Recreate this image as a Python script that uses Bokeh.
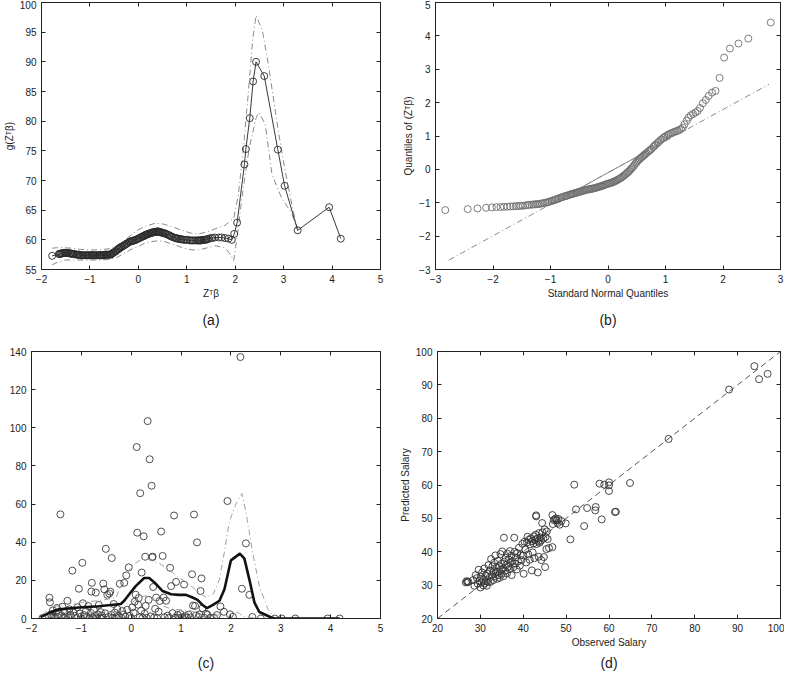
from bokeh.plotting import figure
from bokeh.layouts import column, row
from bokeh.models import Range1d, LinearAxis, FixedTicker, CustomLabelingPolicy
from bokeh.embed import file_html
from bokeh.resources import INLINE

# ---------------- data ----------------
# panel (a) and (c): index values z'beta, fitted g, and panel-(c) scatter values
z = [-1.78, -1.64, -1.63, -1.61, -1.59, -1.57, -1.55, -1.53, -1.51, -1.49, -1.47, -1.45, -1.42, -1.40,
     -1.38, -1.36, -1.34, -1.31, -1.28, -1.26, -1.24, -1.22, -1.20, -1.18, -1.16, -1.13, -1.10, -1.08,
     -1.05, -1.03, -1.01, -0.98, -0.97, -0.95, -0.93, -0.91, -0.89, -0.86, -0.84, -0.81, -0.80, -0.79,
     -0.77, -0.75, -0.73, -0.71, -0.69, -0.67, -0.65, -0.63, -0.61, -0.59, -0.57, -0.56, -0.54, -0.52,
     -0.51, -0.48, -0.46, -0.44, -0.42, -0.40, -0.39, -0.37, -0.35, -0.33, -0.30, -0.28, -0.25, -0.23,
     -0.20, -0.18, -0.16, -0.14, -0.12, -0.10, -0.08, -0.05, -0.03, 0.00, 0.02, 0.05, 0.07, 0.09,
     0.11, 0.12, 0.14, 0.15, 0.17, 0.18, 0.20, 0.21, 0.23, 0.25, 0.27, 0.28, 0.29, 0.31, 0.33, 0.35,
     0.37, 0.39, 0.41, 0.42, 0.43, 0.44, 0.46, 0.48, 0.50, 0.52, 0.55, 0.57, 0.60, 0.63, 0.65, 0.67,
     0.70, 0.73, 0.76, 0.78, 0.80, 0.83, 0.86, 0.88, 0.90, 0.93, 0.96, 0.99, 1.02, 1.06, 1.09, 1.12,
     1.15, 1.19, 1.22, 1.24, 1.26, 1.28, 1.30, 1.32, 1.35, 1.37, 1.39, 1.41, 1.43, 1.46, 1.50, 1.53,
     1.58, 1.66, 1.72, 1.79, 1.86, 1.93, 1.98, 2.04, 2.19, 2.22, 2.30, 2.37, 2.43, 2.60, 2.88, 3.02,
     3.29, 3.94, 4.18]
g = [57.3, 57.6, 57.6, 57.7, 57.7, 57.7, 57.8, 57.8, 57.8, 57.8, 57.8, 57.8, 57.7, 57.7,
     57.7, 57.6, 57.6, 57.6, 57.5, 57.5, 57.5, 57.5, 57.4, 57.4, 57.4, 57.4, 57.4, 57.4,
     57.4, 57.4, 57.4, 57.4, 57.4, 57.4, 57.4, 57.4, 57.4, 57.4, 57.4, 57.4, 57.4, 57.4,
     57.4, 57.4, 57.4, 57.4, 57.5, 57.5, 57.5, 57.5, 57.5, 57.5, 57.5, 57.6, 57.7, 57.8,
     57.9, 58.0, 58.1, 58.3, 58.4, 58.5, 58.6, 58.7, 58.8, 58.9, 59.0, 59.2, 59.3, 59.4,
     59.6, 59.7, 59.7, 59.8, 59.8, 59.9, 59.9, 60.0, 60.1, 60.2, 60.3, 60.4, 60.5, 60.6,
     60.6, 60.7, 60.8, 60.8, 60.9, 60.9, 61.0, 61.0, 61.1, 61.1, 61.2, 61.2, 61.2, 61.3, 61.3, 61.3,
     61.4, 61.4, 61.4, 61.4, 61.3, 61.3, 61.3, 61.2, 61.2, 61.1, 61.1, 61.0, 60.9, 60.8, 60.7, 60.6,
     60.5, 60.4, 60.3, 60.3, 60.2, 60.2, 60.1, 60.1, 60.1, 60.0, 60.0, 60.0, 60.0, 59.9, 59.9, 59.9,
     59.9, 59.9, 59.9, 59.9, 59.9, 59.9, 59.9, 60.0, 60.0, 60.0, 60.0, 60.1, 60.1, 60.2, 60.3, 60.3,
     60.4, 60.4, 60.4, 60.3, 60.2, 60.0, 61.0, 62.9, 72.7, 75.3, 80.5, 86.7, 90.0, 87.6, 75.2, 69.1,
     61.6, 65.5, 60.2]
c_pts = [0.2, 10.9, 8.5, 2.1, 0.5, 4.3, 1.2, 0.3, 3.0, 5.5, 0.8, 2.4, 54.6, 1.6,
         6.2, 0.4, 3.5, 1.1, 9.3, 0.2, 4.8, 2.0, 0.7, 25.1, 3.2, 1.4, 0.3, 5.9,
         15.6, 2.6, 0.9, 29.2, 8.0, 1.8, 0.4, 3.8, 1.0, 6.5, 0.2, 2.9, 14.1, 18.7,
         0.6, 4.4, 1.3, 13.6, 0.1, 2.2, 7.1, 0.5, 3.3, 1.5, 0.3, 18.3, 15.3, 2.7,
         36.5, 12.4, 0.8, 13.1, 14.1, 1.9, 31.7, 0.4, 7.6, 3.1, 0.6, 5.0, 1.2, 18.2,
         0.3, 3.9, 2.0, 18.7, 0.9, 22.6, 4.6, 26.8, 1.4, 0.2, 5.8, 3.0, 8.8, 12.5,
         89.9, 45.0, 7.2, 10.7, 0.6, 65.7, 4.1, 24.1, 0.4, 43.1, 2.5, 32.4, 6.6, 0.3, 103.5, 9.8,
         83.5, 1.1, 69.6, 32.1, 32.4, 16.5, 0.5, 5.1, 11.0, 0.2, 3.6, 9.2, 45.6, 32.8, 11.0, 0.7,
         9.3, 1.5, 0.3, 26.6, 17.0, 2.8, 54.0, 0.4, 19.2, 1.9, 0.2, 2.3, 0.6, 17.8, 1.3, 0.3,
         2.0, 0.5, 23.2, 6.8, 54.5, 6.6, 1.6, 39.9, 0.8, 2.1, 14.4, 21.0, 5.4, 0.4, 2.5, 2.0,
         0.3, 0.5, 1.8, 6.3, 3.5, 61.6, 2.2, 0.9, 137.1, 15.6, 39.4, 12.4, 0.8, 0.0, 0.0, 0.0,
         0.0, 0.0, 0.0]

# panel (a) pointwise bands
a_up_x = [-1.78, -1.6, -1.4, -1.2, -1.0, -0.8, -0.6, -0.45, -0.3, -0.15, 0.0, 0.15, 0.35, 0.5, 0.7, 0.9,
          1.1, 1.25, 1.4, 1.6, 1.8, 1.97, 2.06, 2.16, 2.26, 2.36, 2.43, 2.56, 2.69, 2.89, 3.03, 3.19, 3.28]
a_up_y = [58.6, 58.7, 58.6, 58.4, 58.3, 58.3, 58.5, 59.0, 59.8, 60.8, 61.7, 62.3, 62.8, 62.7, 62.2, 61.6,
          61.1, 61.0, 61.3, 61.9, 62.5, 63.7, 67.3, 74.5, 83.8, 93.7, 97.8, 95.3, 89.3, 78.3, 71.7, 65.1, 62.0]
a_lo_x = [-1.78, -1.65, -1.5, -1.2, -1.0, -0.8, -0.6, -0.45, -0.3, -0.15, 0.0, 0.15, 0.35, 0.5, 0.7, 0.9,
          1.1, 1.25, 1.4, 1.6, 1.8, 1.9, 1.97, 2.06, 2.16, 2.29, 2.43, 2.49, 2.62, 2.76, 2.96, 3.16, 3.28]
a_lo_y = [55.8, 56.3, 56.6, 56.6, 56.6, 56.6, 56.7, 57.0, 57.7, 58.4, 58.9, 59.5, 59.8, 59.8, 59.3, 58.7,
          58.3, 58.3, 58.6, 59.0, 58.6, 57.5, 56.5, 61.8, 68.4, 75.5, 80.5, 81.5, 79.5, 71.0, 67.0, 64.6, 61.8]

# panel (b): QQ plot
qq_x = [-2.83, -2.44, -2.27, -2.12, -2.02, -1.94, -1.87, -1.81, -1.75, -1.70, -1.65, -1.60, -1.56, -1.52,
        -1.48, -1.44, -1.40, -1.37, -1.33, -1.30, -1.27, -1.24, -1.21, -1.18, -1.15, -1.12, -1.09, -1.06,
        -1.04, -1.01, -0.98, -0.96, -0.93, -0.91, -0.88, -0.86, -0.83, -0.81, -0.79, -0.76, -0.74, -0.72,
        -0.70, -0.67, -0.65, -0.63, -0.61, -0.59, -0.57, -0.55, -0.53, -0.51, -0.49, -0.47, -0.45, -0.43,
        -0.41, -0.39, -0.37, -0.35, -0.33, -0.31, -0.29, -0.27, -0.25, -0.23, -0.21, -0.19, -0.17, -0.15,
        -0.13, -0.11, -0.10, -0.08, -0.06, -0.04, -0.02, 0.00, 0.02, 0.04, 0.06, 0.08, 0.10, 0.11, 0.13,
        0.15, 0.17, 0.19, 0.21, 0.23, 0.25, 0.27, 0.29, 0.31, 0.33, 0.35, 0.37, 0.39, 0.41, 0.43, 0.45,
        0.47, 0.49, 0.51, 0.53, 0.55, 0.57, 0.59, 0.61, 0.63, 0.65, 0.67, 0.70, 0.72, 0.74, 0.76, 0.79,
        0.81, 0.83, 0.86, 0.88, 0.91, 0.93, 0.96, 0.98, 1.01, 1.04, 1.06, 1.09, 1.12, 1.15, 1.18, 1.21,
        1.24, 1.27, 1.30, 1.33, 1.37, 1.40, 1.44, 1.48, 1.52, 1.56, 1.60, 1.65, 1.70, 1.75, 1.81, 1.87,
        1.94, 2.02, 2.12, 2.27, 2.44, 2.83]
qq_y = [-1.22, -1.19, -1.17, -1.15, -1.14, -1.13, -1.13, -1.12, -1.12, -1.11, -1.11, -1.10, -1.10, -1.09,
        -1.09, -1.08, -1.07, -1.06, -1.06, -1.05, -1.05, -1.04, -1.04, -1.03, -1.02, -1.01, -1.00, -0.99,
        -0.98, -0.96, -0.95, -0.93, -0.92, -0.90, -0.89, -0.87, -0.85, -0.84, -0.83, -0.81, -0.80, -0.79,
        -0.78, -0.76, -0.75, -0.74, -0.73, -0.72, -0.71, -0.70, -0.69, -0.68, -0.67, -0.66, -0.65, -0.64,
        -0.63, -0.62, -0.61, -0.60, -0.60, -0.59, -0.58, -0.58, -0.57, -0.56, -0.55, -0.54, -0.53, -0.52,
        -0.51, -0.50, -0.49, -0.48, -0.47, -0.45, -0.44, -0.43, -0.42, -0.41, -0.40, -0.39, -0.37, -0.36, -0.35,
        -0.33, -0.31, -0.29, -0.27, -0.25, -0.22, -0.20, -0.17, -0.14, -0.11, -0.08, -0.05, -0.01, 0.03, 0.07, 0.11,
        0.16, 0.20, 0.24, 0.28, 0.31, 0.34, 0.37, 0.40, 0.43, 0.46, 0.49, 0.53, 0.56, 0.59, 0.62, 0.67,
        0.71, 0.74, 0.79, 0.82, 0.87, 0.90, 0.94, 0.97, 1.00, 1.03, 1.05, 1.08, 1.10, 1.12, 1.14, 1.16,
        1.18, 1.21, 1.25, 1.35, 1.46, 1.55, 1.62, 1.66, 1.70, 1.75, 1.84, 1.98, 2.08, 2.20, 2.30, 2.35,
        2.74, 3.35, 3.62, 3.77, 3.92, 4.40]
qq_line_x = [-2.77, 2.80]
qq_line_y = [-2.72, 2.55]
qq_iqr_x = [-0.67, 0.67]
qq_iqr_y = [-0.733, 0.534]

# panel (c): variance function and bands
v_x = [-1.82, -1.58, -1.45, -1.05, -0.65, -0.21, -0.14, -0.04, 0.09, 0.26, 0.36, 0.49, 0.63, 0.80, 0.96,
       1.10, 1.23, 1.33, 1.43, 1.52, 1.64, 1.77, 1.87, 2.00, 2.18, 2.27, 2.37, 2.47, 2.57, 2.81, 2.88, 4.18]
v_y = [0.7, 3.7, 4.8, 5.8, 6.4, 7.6, 9.3, 12.7, 17.0, 21.2, 21.2, 18.3, 14.4, 12.7, 12.4,
       12.4, 11.0, 9.8, 7.1, 5.4, 7.1, 9.3, 15.3, 30.5, 34.0, 31.4, 20.4, 8.5, 3.4, 0.5, 0.0, 0.0]
c_up_x = [-1.78, -1.6, -1.3, -1.0, -0.6, -0.3, -0.14, 0.03, 0.2, 0.36, 0.56, 0.76, 0.93, 1.1, 1.37, 1.5,
          1.65, 1.77, 1.87, 1.97, 2.1, 2.22, 2.3, 2.44, 2.57, 2.74, 2.85]
c_up_y = [2, 6, 7.5, 8.5, 9.5, 11, 22, 28, 31, 31, 29, 25.5, 22, 19, 13.6, 11,
          13, 20.4, 35, 51, 60, 65.5, 56, 34, 17, 5, 0.8]
c_lo_x = [-1.78, -1.6, -1.3, -1.0, -0.6, -0.3, -0.15, 0.0, 0.15, 0.3, 0.45, 0.6, 0.8, 1.0, 1.2, 1.4, 1.5,
          1.65, 1.8, 1.95, 2.05, 2.15, 2.25, 2.4, 2.6]
c_lo_y = [0, 1, 1.5, 2, 3, 3.5, 4, 8, 11, 12, 10, 7, 5, 4.5, 4, 2, 0.5,
          1.5, 2, 1, 4, 3, 1, 0.5, 0]

# panel (d): observed vs predicted salary
obs = [26.6, 26.8, 27.0, 27.2, 28.3, 28.6, 28.9, 29.2, 29.4, 29.6, 29.8, 30.0, 30.1, 30.3, 30.4, 30.6,
       30.7, 30.9, 31.0, 31.2, 31.3, 31.5, 31.6, 31.8, 31.9, 32.1, 32.2, 32.4, 32.5, 32.7, 32.8, 33.0,
       33.1, 33.2, 33.4, 33.5, 33.6, 33.8, 33.9, 34.0, 34.1, 34.3, 34.4, 34.5, 34.7, 34.8, 34.9, 35.0,
       35.1, 35.3, 35.4, 35.5, 35.6, 35.8, 35.9, 36.0, 36.2, 36.3, 36.5, 36.6, 36.8, 36.9, 37.0, 37.2,
       37.3, 37.5, 37.7, 37.9, 38.0, 38.1, 38.3, 38.5, 38.6, 38.8, 39.0, 39.2, 39.4, 39.6, 39.8, 40.0,
       40.1, 40.3, 40.5, 40.7, 40.9, 41.0, 41.2, 41.3, 41.5, 41.6, 41.8, 42.0, 42.1, 42.2, 42.4, 42.5,
       42.6, 42.8, 42.9, 43.0, 43.0, 43.1, 43.3, 43.4, 43.5, 43.6, 43.7, 43.8, 44.0, 44.1, 44.2, 44.4,
       44.5, 44.7, 44.8, 45.0, 45.1, 45.2, 45.4, 45.5, 45.7, 46.0, 46.8, 46.8, 46.9, 47.1, 47.4, 47.6,
       47.8, 48.0, 48.2, 48.5, 48.9, 49.9, 51.0, 51.9, 52.3, 54.2, 54.9, 56.8, 56.9, 57.8, 58.3, 58.9,
       60.0, 60.0, 60.0, 61.4, 61.6, 64.9, 73.9, 88.0, 93.9, 95.0, 97.0]
pred = [30.8, 31.2, 30.9, 31.0, 31.5, 29.8, 33.0, 32.1, 30.4, 34.6, 31.3, 29.3, 32.5, 30.8, 33.8, 31.6,
        29.9, 35.0, 30.5, 32.8, 31.2, 29.8, 33.5, 30.9, 36.0, 32.2, 34.4, 31.0, 37.8, 33.1, 35.6, 31.5,
        34.2, 36.7, 32.6, 38.9, 33.7, 35.2, 31.9, 34.0, 37.3, 33.0, 35.8, 32.2, 39.3, 34.6, 36.4, 33.4,
        40.1, 35.1, 32.7, 44.2, 37.0, 34.3, 38.2, 36.0, 33.5, 39.4, 35.5, 37.7, 34.8, 40.2, 36.6, 38.8,
        33.0, 37.2, 35.4, 44.2, 40.0, 36.5, 38.3, 34.7, 39.6, 37.1, 41.2, 35.8, 39.0, 37.5, 42.4, 38.9,
        33.4, 43.0, 40.6, 36.8, 42.8, 44.5, 39.2, 43.6, 37.6, 42.2, 44.0, 34.4, 43.2, 39.8, 42.5, 44.6,
        38.1, 43.5, 45.1, 50.6, 50.9, 42.3, 44.0, 33.8, 43.1, 38.5, 45.6, 42.7, 44.3, 43.3, 37.5, 48.6,
        45.8, 43.9, 38.4, 46.7, 35.4, 44.4, 40.8, 46.1, 43.8, 41.1, 51.0, 41.4, 48.3, 49.5, 49.7, 50.0,
        49.4, 48.6, 49.8, 48.1, 49.2, 48.5, 43.7, 60.1, 52.7, 47.7, 53.1, 52.4, 53.4, 60.4, 49.7, 60.1,
        59.9, 60.8, 58.2, 51.9, 52.0, 60.6, 73.8, 88.6, 95.6, 91.7, 93.3]
diag_x = [20, 100]
diag_y = [20, 100]

FONT = "Liberation Sans"
INK = "#222222"
NO_LABELS = "const n = indices.size; for (let i = 0; i < n; i++) { indices.unset(i) } return indices"


def make_fig(w, h, xr, yr, xt, yt, bl, br, bt, bb, xlabel=None, ylabel=None,
             caption=None, cap_standoff=10):
    p = figure(width=w, height=h, x_range=Range1d(*xr), y_range=Range1d(*yr),
               output_backend="svg", toolbar_location=None,
               min_border_left=bl, min_border_right=br, min_border_top=bt, min_border_bottom=bb)
    p.grid.visible = False
    p.outline_line_color = INK
    p.background_fill_color = "white"
    for ax, ticks, lab in ((p.xaxis[0], xt, xlabel), (p.yaxis[0], yt, ylabel)):
        ax.ticker = FixedTicker(ticks=ticks)
        ax.major_tick_in = 4
        ax.major_tick_out = 0
        ax.minor_tick_line_color = None
        ax.axis_line_color = INK
        ax.major_tick_line_color = INK
        ax.major_label_text_font = FONT
        ax.major_label_text_font_size = "10px"
        ax.major_label_text_color = INK
        ax.major_label_standoff = 5
        if lab:
            ax.axis_label = lab
            ax.axis_label_text_font = FONT
            ax.axis_label_text_font_size = "10px"
            ax.axis_label_text_font_style = "normal"
            ax.axis_label_text_color = INK
            ax.axis_label_standoff = 2
    # inward ticks on the top and right sides of the box (no labels)
    for side, ticks in (("above", xt), ("right", yt)):
        ax = LinearAxis(ticker=FixedTicker(ticks=ticks), major_label_text_font_size="0px",
                        major_label_policy=CustomLabelingPolicy(code=NO_LABELS),
                        major_label_standoff=0, major_tick_in=4, major_tick_out=0,
                        minor_tick_line_color=None, axis_line_color=INK, major_tick_line_color=INK)
        p.add_layout(ax, side)
    if caption:
        cap = LinearAxis(ticker=FixedTicker(ticks=[]), axis_line_color=None,
                         major_tick_line_color=None, minor_tick_line_color=None,
                         axis_label=caption, axis_label_standoff=cap_standoff,
                         axis_label_text_font=FONT, axis_label_text_font_size="14px",
                         axis_label_text_font_style="normal", axis_label_text_color=INK)
        p.add_layout(cap, "below")
    return p


# (a)
pa = make_fig(396, 330, (-2, 5), (55, 100), list(range(-2, 6)), list(range(55, 101, 5)),
              31, 16, 2, 60, xlabel="Zᵀβ", ylabel="g(Zᵀβ)", caption="(a)", cap_standoff=10)
pa.line(a_up_x, a_up_y, line_color="#8a8a8a", line_dash="6 3 1 3", line_width=1)
pa.line(a_lo_x, a_lo_y, line_color="#8a8a8a", line_dash="6 3 1 3", line_width=1)
pa.line(z, g, line_color=INK, line_width=0.9)
pa.scatter(z, g, marker="circle", size=7, fill_color=None, line_color="#2a2a2a", line_width=0.9)

# (b)
pb = make_fig(388, 330, (-3, 3), (-3, 5), list(range(-3, 4)), list(range(-3, 6)),
              39, 4, 0, 60, xlabel="Standard Normal Quantiles", ylabel="Quantiles of (Zᵀβ)",
              caption="(b)", cap_standoff=10)
pb.line(qq_line_x, qq_line_y, line_color="#8a8a8a", line_dash="6 3 1 3", line_width=1)
pb.line(qq_iqr_x, qq_iqr_y, line_color="#8a8a8a", line_width=1)
pb.scatter(qq_x, qq_y, marker="circle", size=7, fill_color=None, line_color="#6e6e6e", line_width=0.9)

# (c)
pc = make_fig(396, 343, (-2, 5), (0, 140), list(range(-2, 6)), list(range(0, 141, 20)),
              31, 16, 17, 53, caption="(c)", cap_standoff=20)
pc.scatter(z, c_pts, marker="circle", size=7, fill_color=None, line_color="#3c3c3c", line_width=0.9)
pc.line(c_up_x, c_up_y, line_color="#a0a0a0", line_dash="6 3 1 3", line_width=1)
pc.line(c_lo_x, c_lo_y, line_color="#a0a0a0", line_dash="6 3 1 3", line_width=1)
pc.line(v_x, v_y, line_color="#111111", line_width=2.6)

# (d)
pd_ = make_fig(388, 343, (20, 100), (20, 100), list(range(20, 101, 10)), list(range(20, 101, 10)),
               39, 4, 21, 51, xlabel="Observed Salary", ylabel="Predicted Salary",
               caption="(d)", cap_standoff=4)
pd_.line(diag_x, diag_y, line_color="#555555", line_dash="6 4", line_width=1)
pd_.scatter(obs, pred, marker="circle", size=7, fill_color=None, line_color="#333333", line_width=0.9)

layout = column(row(pa, pb), row(pc, pd_))
open("out.html", "w").write(file_html(layout, INLINE))
